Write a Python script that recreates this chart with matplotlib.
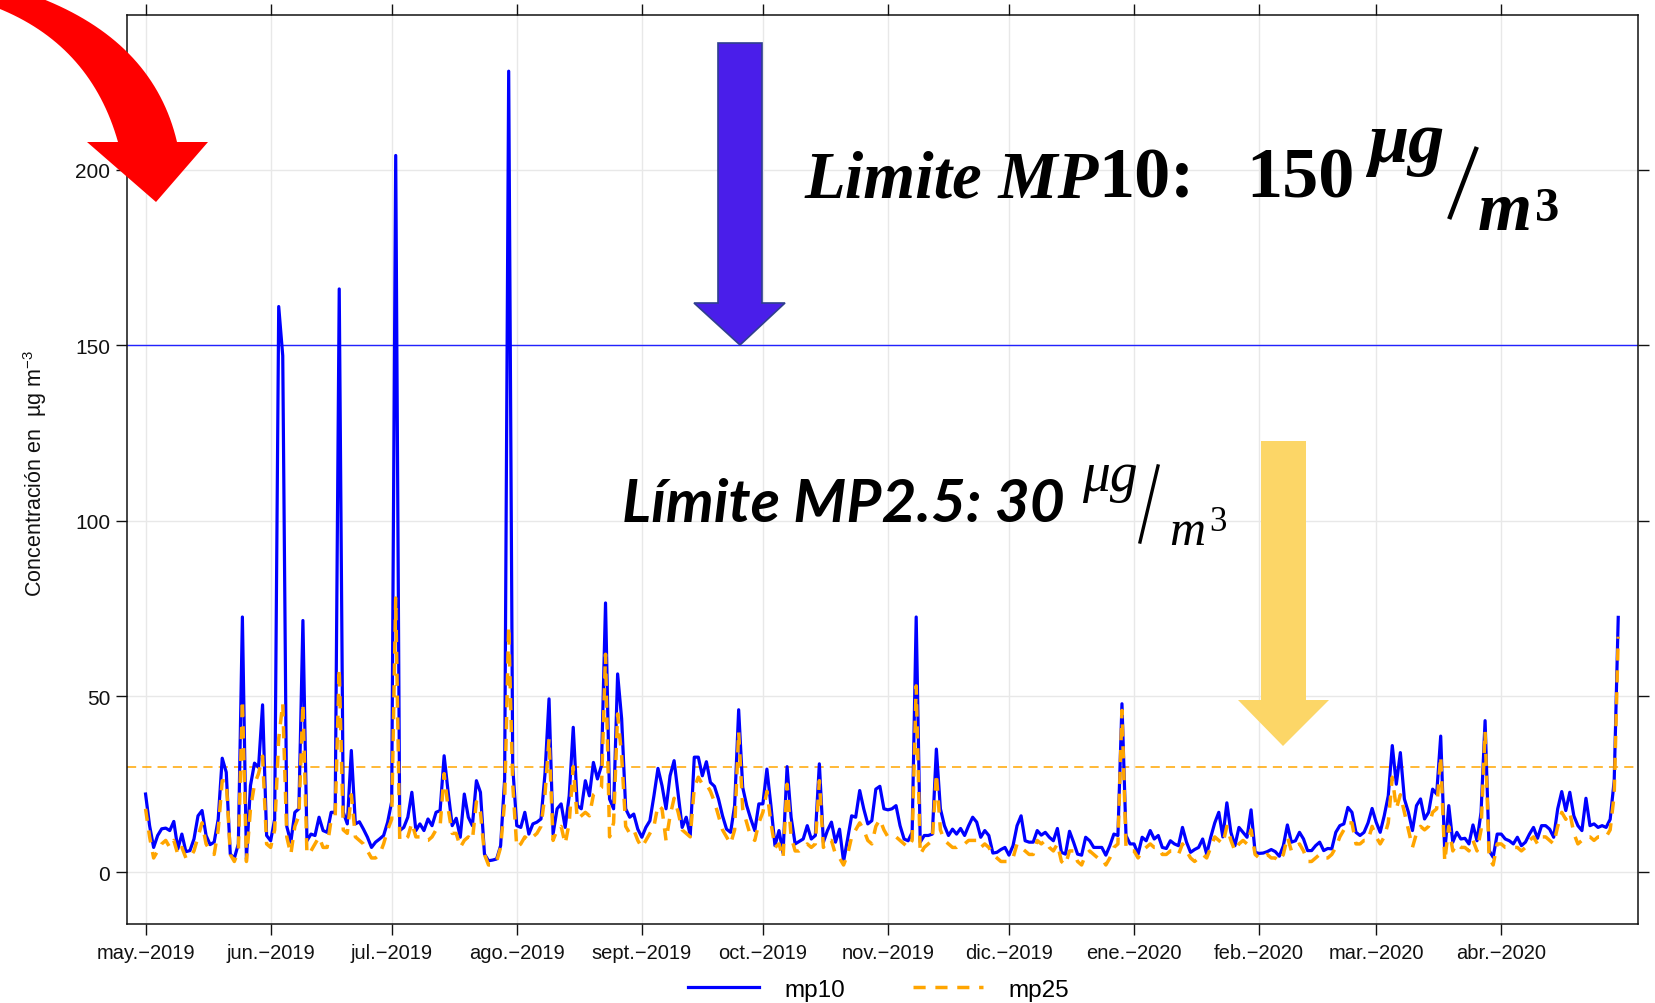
import matplotlib
matplotlib.use("Agg")
import matplotlib.pyplot as plt
import matplotlib.dates as mdates
from matplotlib.patches import Polygon
from matplotlib.lines import Line2D
import numpy as np
import pandas as pd

# daily means, 1 May 2019 - 30 Apr 2020 (one row per month)
mp10 = (
    [22.2, 13.2, 7.0, 10.4, 12.3, 12.5, 11.8, 14.4, 6.6, 10.8, 5.8, 6.1, 9.4, 16.0, 17.5, 10.4,
     7.8, 8.5, 15.0, 32.4, 28.4, 5.1, 3.9, 8.0, 72.6, 3.7, 24.6, 31.0, 29.8, 47.6, 10.4]
    + [8.9, 15.0, 161.0, 147.0, 13.0, 8.5, 17.0, 18.0, 71.6, 8.9, 10.8, 10.4, 15.6, 11.8, 11.3,
       17.0, 17.0, 166.0, 17.0, 13.7, 34.6, 13.7, 14.3, 12.2, 9.9, 7.0, 8.5, 9.4, 10.4, 14.2]
    + [20.0, 204.0, 11.8, 12.7, 15.6, 22.7, 11.8, 13.7, 11.8, 15.1, 13.2, 17.0, 17.5, 33.1, 22.7,
       13.2, 15.3, 9.9, 22.2, 15.6, 13.2, 26.0, 22.7, 5.1, 3.2, 3.4, 3.7, 7.5, 26.5, 228.0, 30.0]
    + [13.2, 12.7, 17.0, 10.8, 13.7, 14.2, 15.1, 28.0, 49.3, 10.8, 18.0, 19.4, 12.7, 21.7, 41.2,
       18.9, 18.0, 26.0, 21.7, 31.2, 26.5, 30.3, 76.6, 20.8, 18.0, 56.4, 43.6, 18.0, 15.6, 16.5, 12.2]
    + [9.9, 12.7, 14.6, 21.7, 29.5, 24.6, 18.0, 27.4, 31.7, 22.2, 12.7, 15.6, 10.4, 32.7, 32.7,
       27.4, 31.4, 25.5, 24.4, 20.8, 16.0, 12.2, 11.3, 18.9, 46.2, 24.1, 18.9, 15.1, 11.8, 19.4]
    + [19.4, 29.3, 18.9, 7.5, 11.8, 5.4, 30.0, 15.6, 8.0, 8.7, 9.4, 13.2, 9.4, 10.4, 30.8, 8.5,
       11.8, 14.2, 8.5, 12.2, 3.0, 9.4, 16.0, 15.6, 23.2, 18.0, 13.7, 14.6, 23.6, 24.4, 18.0]
    + [17.7, 18.0, 18.9, 13.2, 9.4, 8.9, 11.3, 72.6, 8.5, 10.4, 10.4, 10.8, 35.0, 18.0, 13.2,
       10.4, 12.2, 10.8, 12.4, 10.4, 13.2, 15.6, 14.2, 9.9, 11.8, 10.4, 5.4, 5.6, 6.4, 7.0]
    + [4.8, 7.5, 13.2, 16.0, 8.9, 8.5, 8.5, 11.8, 10.5, 11.3, 9.9, 8.9, 12.4, 5.6, 5.1, 11.6,
       8.5, 5.1, 4.8, 9.9, 8.9, 7.0, 7.0, 7.0, 4.8, 7.5, 10.8, 10.4, 47.9, 10.4, 8.0]
    + [8.0, 5.1, 9.9, 8.9, 11.8, 9.4, 10.4, 7.0, 6.7, 8.9, 8.0, 7.5, 12.7, 8.5, 5.6, 6.4, 7.0,
       9.4, 5.1, 9.9, 14.0, 17.0, 10.0, 19.7, 11.3, 7.5, 12.7, 11.3, 9.9, 17.7, 5.6]
    + [5.3, 5.4, 5.8, 6.4, 5.8, 4.5, 7.5, 13.4, 8.5, 8.9, 11.3, 9.4, 6.1, 6.1, 7.5, 8.5, 6.1,
       6.7, 6.6, 11.3, 13.2, 13.7, 18.4, 17.0, 11.3, 10.4, 11.3, 14.0, 18.1]
    + [14.2, 11.3, 16.0, 21.7, 36.0, 25.0, 34.0, 20.8, 17.0, 11.8, 18.9, 20.8, 15.1, 17.0, 23.6,
       22.2, 38.7, 5.6, 18.9, 8.5, 11.3, 9.4, 9.6, 8.0, 13.4, 8.9, 17.0, 43.1, 6.1, 4.2, 10.8]
    + [10.8, 9.4, 8.9, 8.0, 9.9, 7.5, 8.5, 10.8, 12.7, 9.6, 13.2, 13.2, 12.2, 9.9, 18.0, 22.9,
       17.5, 22.7, 16.0, 13.2, 11.8, 21.0, 13.2, 13.7, 12.7, 13.2, 12.7, 15.0, 26.0, 72.5]
)

mp25 = (
    [18, 10, 4, 6, 8, 9, 7, 9, 5, 7, 4, 4, 6, 10, 14, 8, 6, 5, 12, 26, 26, 5, 3, 6, 49, 3, 18,
     25, 28, 33, 8]
    + [7, 12, 38, 48, 10, 5, 13, 16, 48, 5, 6, 8, 10, 7, 7, 15, 16, 58, 12, 11, 22, 10, 9, 8, 6,
       4, 4, 5, 8, 12]
    + [15, 78, 9, 9, 10, 14, 10, 10, 9, 9, 10, 12, 13, 28, 18, 11, 11, 7, 9, 10, 9, 20, 17, 5, 2,
       2, 3, 7, 20, 70, 25]
    + [7, 8, 10, 9, 10, 11, 13, 22, 38, 9, 12, 13, 8, 14, 30, 15, 16, 17, 16, 22, 23, 24, 62, 10,
       14, 45, 33, 13, 11, 12, 9]
    + [7, 9, 11, 13, 19, 18, 9, 16, 21, 17, 12, 11, 10, 24, 27, 25, 25, 23, 20, 16, 12, 10, 8, 12,
       40, 18, 14, 10, 9, 14]
    + [17, 23, 14, 7, 8, 4, 25, 10, 6, 6, 7, 8, 7, 8, 26, 7, 9, 9, 5, 4, 2, 5, 10, 12, 14, 12, 9,
       8, 13, 15, 12]
    + [10, 10, 10, 9, 8, 7, 9, 53, 5, 7, 8, 9, 28, 12, 9, 8, 7, 7, 8, 8, 9, 9, 9, 7, 8, 7, 5, 4,
       3, 3]
    + [3, 4, 8, 7, 6, 5, 5, 9, 8, 9, 7, 6, 8, 3, 2, 6, 6, 3, 2, 5, 6, 5, 4, 4, 2, 4, 7, 8, 46, 7, 6]
    + [6, 4, 6, 7, 8, 7, 7, 5, 5, 6, 6, 5, 8, 6, 4, 3, 4, 5, 4, 7, 10, 9, 8, 13, 9, 6, 8, 9, 8,
       12, 5]
    + [4, 4, 5, 4, 4, 3, 5, 10, 6, 7, 8, 6, 3, 3, 4, 5, 4, 4, 5, 7, 10, 12, 14, 14, 8, 8, 9, 9, 13]
    + [10, 8, 10, 14, 27, 18, 22, 17, 12, 7, 11, 13, 12, 13, 17, 18, 33, 3, 13, 6, 8, 7, 7, 6, 9,
       6, 12, 40, 4, 2, 8]
    + [8, 7, 7, 7, 7, 6, 7, 9, 10, 8, 10, 10, 9, 8, 13, 17, 15, 17, 11, 8, 9, 10, 10, 9, 10, 10,
       10, 12, 22, 67]
)

month_labels = ["may.\u22122019", "jun.\u22122019", "jul.\u22122019", "ago.\u22122019",
                "sept.\u22122019", "oct.\u22122019", "nov.\u22122019", "dic.\u22122019",
                "ene.\u22122020", "feb.\u22122020", "mar.\u22122020", "abr.\u22122020"]
y_ticks = [0, 50, 100, 150, 200]
limit_mp10 = 150
limit_mp25 = 30

plt.rcParams['font.family'] = ['Liberation Sans', 'DejaVu Sans']
plt.rcParams['mathtext.fontset'] = 'custom'
plt.rcParams['mathtext.rm'] = 'Liberation Sans'
plt.rcParams['mathtext.it'] = 'Liberation Sans:italic'

W, H = 1655, 1004
fig = plt.figure(figsize=(W / 100, H / 100), dpi=100)
ax = fig.add_axes([127 / W, 1 - 925 / H, (1638 - 127) / W, (925 - 16) / H])

dates = pd.date_range("2019-05-01", periods=len(mp10), freq="D")
dates25 = pd.date_range("2019-05-01", periods=len(mp25), freq="D")
start = mdates.date2num(pd.Timestamp("2019-05-01"))

ax.axhline(limit_mp10, color="#2222ff", lw=1.0, zorder=2)
ax.axhline(limit_mp25, color="#ffa500", lw=1.1, dashes=(6, 4), zorder=2)
l10, = ax.plot(dates, mp10, color="#0000ff", lw=2.3, zorder=3)
l25, = ax.plot(dates25, mp25, color="#ffa500", lw=2.5, dashes=(3.5, 2.8), zorder=4)

month_ticks = pd.date_range("2019-05-01", periods=len(month_labels), freq="MS")
ax.set_xticks(month_ticks)
ax.set_xticklabels(month_labels)
ax.set_yticks(y_ticks)
ax.set_xlim(start - 4.6, start + 369.9)
ax.set_ylim(-14.8, 244)
ax.grid(True, color="#e8e8e8", lw=1.0)
ax.set_axisbelow(True)
ax.tick_params(axis="both", direction="out", length=8, width=1, labelsize=14.5,
               top=True, right=True, labeltop=False, labelright=False, colors="#111111")
ax.tick_params(axis="x", pad=6)
ax.tick_params(axis="y", pad=4, labelsize=15)
for s in ax.spines.values():
    s.set_color("#111111")
    s.set_linewidth(1.1)

fig.text(35 / W, 1 - 473 / H, "Concentración en  µg m$^{-3}$", rotation=90,
         ha="center", va="center", fontsize=15.5, color="#111111")

fig.legend([l10, l25], ["mp10", "mp25"], loc="center", bbox_to_anchor=(0.531, 0.013),
           ncol=2, frameon=False, fontsize=17.5, handlelength=2.9, handletextpad=1.05,
           columnspacing=2.8)


def fpt(x, y):
    return (x / W, 1 - y / H)


def poly(points, **kw):
    p = Polygon([fpt(x, y) for x, y in points], closed=True,
                transform=fig.transFigure, **kw)
    fig.add_artist(p)


# curved red arrow (top left)
def bez(a, c, b, t):
    t = t[:, None]
    return (1 - t) ** 2 * np.array(a) + 2 * t * (1 - t) * np.array(c) + t ** 2 * np.array(b)


ts = np.linspace(-0.2, 1, 40)
outer = bez((43, 0), (154, 44.5), (177, 143), ts)
inner = bez((0, 10), (91, 47.5), (118, 143), ts)
red_pts = list(map(tuple, outer)) + [(208, 143), (156, 203), (87, 143)] + list(map(tuple, inner[::-1]))
poly(red_pts, facecolor="#ff0000", edgecolor="none", zorder=5)

# blue down arrow
poly([(718, 44), (762, 44), (762, 304), (785, 304), (740, 346), (694, 304), (718, 304)],
     facecolor="#4a1eea", edgecolor="#2f3f8f", lw=1.2, zorder=5)
# yellow down arrow
poly([(1261, 442), (1306, 442), (1306, 701), (1329, 701), (1283, 747), (1238, 701), (1261, 701)],
     facecolor="#fcd667", edgecolor="none", zorder=5)

serif = "Liberation Serif"
# "Limite MP10: 150 ug/m3"
fig.text(*fpt(804, 197), "Limite MP", family=serif, weight="bold", style="italic",
         fontsize=48, va="baseline", zorder=6)
fig.text(*fpt(1098, 197), "10:", family=serif, weight="bold", fontsize=52, va="baseline", zorder=6)
fig.text(*fpt(1246, 197), "150", family=serif, weight="bold", fontsize=52, va="baseline", zorder=6)
fig.text(*fpt(1368, 162), "\u03bcg", family=serif, weight="bold", style="italic",
         fontsize=52, va="baseline", zorder=6)
fig.add_artist(Line2D([1450 / W, 1476 / W], [1 - 218 / H, 1 - 150 / H], color="black",
                      lw=3.2, transform=fig.transFigure, zorder=6))
fig.text(*fpt(1478, 230), "m", family=serif, weight="bold", style="italic",
         fontsize=50, va="baseline", zorder=6)
fig.text(*fpt(1535, 221), "3", family=serif, weight="bold", fontsize=35, va="baseline", zorder=6)

# "Limite MP2.5: 30 ug/m3"
fig.text(*fpt(622, 522), "Límite MP2.5: 30", family=["Lato", "DejaVu Sans"], weight="bold",
         style="italic", fontsize=43.5, va="baseline", zorder=6)
fig.text(*fpt(1082, 491), "\u03bcg", family=serif, style="italic", fontsize=40,
         va="baseline", zorder=6)
fig.add_artist(Line2D([1140 / W, 1158 / W], [1 - 543 / H, 1 - 467 / H], color="black",
                      lw=2.4, transform=fig.transFigure, zorder=6))
fig.text(*fpt(1169, 545), "m", family=serif, style="italic", fontsize=36, va="baseline", zorder=6)
fig.text(*fpt(1209, 531), "3", family=serif, fontsize=25, va="baseline", zorder=6)

fig.savefig("out.png", dpi=100)
